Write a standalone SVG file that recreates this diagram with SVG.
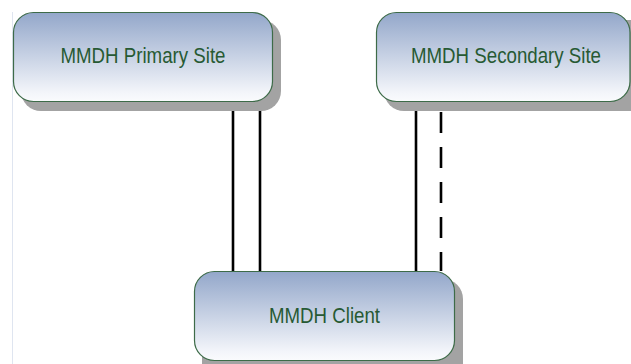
<svg xmlns="http://www.w3.org/2000/svg" width="631" height="364" viewBox="0 0 631 364">
<defs>
<linearGradient id="g" x1="0" y1="0" x2="0" y2="1">
<stop offset="0" stop-color="#93a7ca"/>
<stop offset="0.9" stop-color="#f3f5fa"/>
<stop offset="1" stop-color="#fafbfd"/>
</linearGradient>
<style>
.shadow{fill:#a3a3a3}
.box{fill:url(#g);stroke:#3d6b48;stroke-width:1.2}
.lbl{font-family:"Liberation Sans",Arial,sans-serif;font-size:22px;fill:#275a33;text-anchor:middle}
.ln{stroke:#000;stroke-width:2.6;fill:none}
.dash{stroke-dasharray:21 14}
</style>
</defs>
<rect width="631" height="364" fill="#fff"/>
<line x1="12.5" y1="12" x2="12.5" y2="364" stroke="#dfe5f0" stroke-width="1"/>
<g id="connectors">
<line class="ln" x1="233" y1="102" x2="233" y2="271"/>
<line class="ln" x1="260" y1="102" x2="260" y2="271"/>
<line class="ln" x1="416" y1="102" x2="416" y2="271"/>
<line class="ln dash" x1="441" y1="112" x2="441" y2="271"/>
</g>
<g id="primary">
<rect class="shadow" x="21" y="20" width="260" height="91" rx="20"/>
<rect class="box" x="13.5" y="12.5" width="259" height="89" rx="20"/>
<text class="lbl" x="143" y="63" textLength="165" lengthAdjust="spacingAndGlyphs">MMDH Primary Site</text>
</g>
<g id="secondary">
<path class="shadow" d="M404,20 H631 V111 H404 A20,20 0 0 1 384,91 V40 A20,20 0 0 1 404,20 Z"/>
<path class="box" d="M396.5,12.5 H610 A20,20 0 0 1 630,32.5 V81.5 A20,20 0 0 1 610,101.5 H396.5 A20,20 0 0 1 376.5,81.5 V32.5 A20,20 0 0 1 396.5,12.5 Z"/>
<text class="lbl" x="506" y="63" textLength="190" lengthAdjust="spacingAndGlyphs">MMDH Secondary Site</text>
</g>
<g id="client">
<path class="shadow" d="M222,279 H443 A20,20 0 0 1 463,299 V364 H202 V299 A20,20 0 0 1 222,279 Z"/>
<rect class="box" x="194.5" y="271.5" width="260" height="89" rx="20"/>
<text class="lbl" x="324.5" y="323" textLength="111" lengthAdjust="spacingAndGlyphs">MMDH Client</text>
</g>
</svg>
